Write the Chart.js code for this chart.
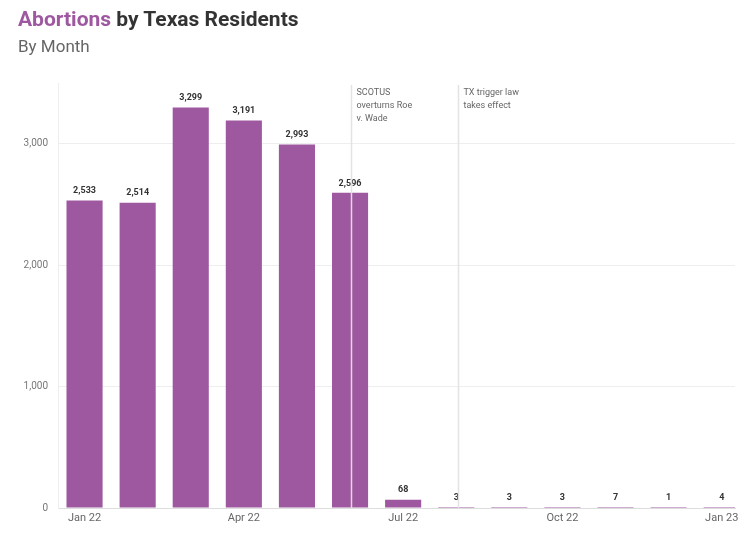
<!DOCTYPE html>
<html>
<head>
<meta charset="utf-8">
<script src="https://cdn.jsdelivr.net/npm/chart.js@4"></script>
<style>
  html, body { margin: 0; padding: 0; background: #fff; overflow: hidden; }
  #wrap { position: relative; width: 745px; height: 533px; }
  #title { position: absolute; left: 18px; top: 7px; font: bold 21px Roboto, sans-serif; color: #333; }
  #title span { color: #9e58a0; }
  #sub { position: absolute; left: 18px; top: 36px; font: 17px Roboto, sans-serif; color: #666; }
  canvas { position: absolute; left: 0; top: 0; }
</style>
</head>
<body>
<div id="wrap">
  <canvas id="chart" width="745" height="533"></canvas>
  <div id="title"><span>Abortions</span> by Texas Residents</div>
  <div id="sub">By Month</div>
</div>
<script>
'use strict';

let months = ['Jan 22', 'Feb 22', 'Mar 22', 'Apr 22', 'May 22', 'Jun 22',
  'Jul 22', 'Aug 22', 'Sep 22', 'Oct 22', 'Nov 22', 'Dec 22', 'Jan 23'];
let abortions = [2533, 2514, 3299, 3191, 2993, 2596, 68, 3, 3, 3, 7, 1, 4];
let yTicks = [0, 1000, 2000, 3000];

// notes drawn as vertical lines, x in month index units
let notes = [
  { x: 5.02, lines: ['SCOTUS', 'overturns Roe', 'v. Wade'] },
  { x: 7.04, lines: ['TX trigger law', 'takes effect'] }
];

let canvasElem = document.getElementById('chart');

let barLabels = {
  id: 'barLabels',
  afterDatasetsDraw(chart) {
    let ctx = chart.ctx;
    let meta = chart.getDatasetMeta(0);
    ctx.save();
    ctx.font = 'bold 9px Roboto, sans-serif';
    ctx.fillStyle = '#333';
    ctx.textAlign = 'center';
    ctx.textBaseline = 'bottom';
    meta.data.forEach((bar, i) => {
      ctx.fillText(abortions[i].toLocaleString('en-US'), bar.x, bar.y - 5);
    });
    ctx.restore();
  }
};

let noteLines = {
  id: 'noteLines',
  afterDatasetsDraw(chart) {
    let ctx = chart.ctx;
    let area = chart.chartArea;
    let xs = chart.scales.x;
    ctx.save();
    notes.forEach(n => {
      let px = Math.round(xs.getPixelForValue(n.x)) + 0.5;
      ctx.strokeStyle = 'rgba(225,225,225,0.95)';
      ctx.lineWidth = 1.5;
      ctx.beginPath();
      ctx.moveTo(px, area.top + 2);
      ctx.lineTo(px, area.bottom);
      ctx.stroke();
      ctx.font = '9px Roboto, sans-serif';
      ctx.fillStyle = '#666';
      ctx.textAlign = 'left';
      ctx.textBaseline = 'top';
      n.lines.forEach((t, k) => ctx.fillText(t, px + 5, area.top + 5 + k * 13));
    });
    ctx.restore();
  }
};

let chartObj = {
  type: 'bar',
  data: {
    datasets: [{
      label: 'Abortions',
      data: abortions.map((v, i) => ({ x: i, y: v })),
      backgroundColor: '#9e58a0',
      borderWidth: 0,
      barPercentage: 0.68,
      categoryPercentage: 1,
      minBarLength: 1
    }]
  },
  options: {
    responsive: false,
    animation: false,
    layout: { padding: { top: 83, right: 10, left: 0, bottom: 0 } },
    plugins: { legend: { display: false }, tooltip: { enabled: false } },
    scales: {
      x: {
        type: 'linear',
        offset: false,
        min: -0.5,
        max: 12.25,
        afterBuildTicks(axis) {
          axis.ticks = [0, 3, 6, 9, 12].map(v => ({ value: v }));
        },
        afterFit(axis) { axis.height = 25; },
        ticks: {
          callback: v => months[v],
          color: '#666',
          font: { family: 'Roboto', size: 11 },
          padding: 4,
          maxRotation: 0
        },
        grid: { display: false, drawTicks: false },
        border: { color: '#ddd' }
      },
      y: {
        min: 0,
        max: 3500,
        afterBuildTicks(axis) {
          axis.ticks = yTicks.map(v => ({ value: v }));
        },
        afterFit(axis) { axis.width = 58; },
        ticks: {
          callback: v => v.toLocaleString('en-US'),
          color: '#777',
          font: { family: 'Roboto', size: 10 },
          padding: 10
        },
        grid: { color: '#eee', drawTicks: false },
        border: { color: '#eee' }
      }
    }
  },
  plugins: [barLabels, noteLines]
};

new Chart(canvasElem, chartObj);
</script>
</body>
</html>
